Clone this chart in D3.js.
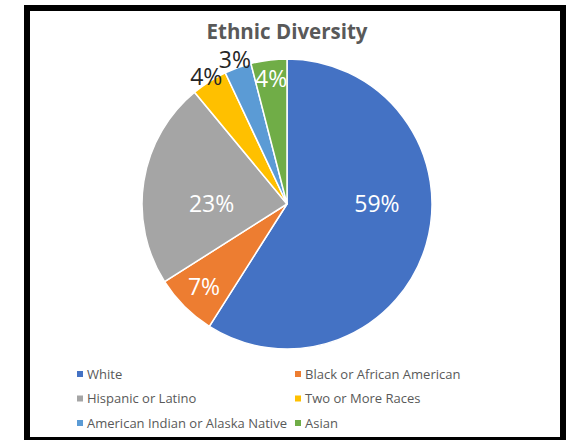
<!DOCTYPE html>
<html>
<head>
<meta charset="utf-8">
<script src="https://cdn.jsdelivr.net/npm/d3@7"></script>
<style>
  body { margin: 0; background: #fff; }
  svg { display: block; }
</style>
</head>
<body>
<div id="chart"></div>
<script>
var categories = ["White", "Black or African American", "Hispanic or Latino",
                  "Two or More Races", "American Indian or Alaska Native", "Asian"];
var values = [59, 7, 23, 4, 3, 4];
var colors = ["#4472C4", "#ED7D31", "#A5A5A5", "#FFC000", "#5B9BD5", "#70AD47"];
var title = "Ethnic Diversity";

function draw_pie() {
  "use strict";
  var width = 569,
      height = 440;

  var cx = 287, cy = 204, radius = 145;

  var svg = d3.select("#chart")
      .append("svg")
      .attr("width", width)
      .attr("height", height);

  // frame
  svg.append("rect")
      .attr("x", 27)
      .attr("y", 8)
      .attr("width", 536)
      .attr("height", 432)
      .style("fill", "#fff")
      .style("stroke", "#000")
      .style("stroke-width", 6);

  svg.append("text")
      .attr("x", cx)
      .attr("y", 39)
      .attr("text-anchor", "middle")
      .style("font-family", "Open Sans")
      .style("font-weight", "bold")
      .style("font-size", "20.5px")
      .style("fill", "#595959")
      .text(title);

  var data = categories.map(function(c, i) { return {name: c, value: values[i], color: colors[i]}; });

  var pie = d3.pie().sort(null).value(function(d) { return d.value; });
  var arcs = pie(data);

  var arc = d3.arc().innerRadius(0).outerRadius(radius);

  var g = svg.append("g").attr("transform", "translate(" + cx + "," + cy + ")");

  g.selectAll("path")
      .data(arcs)
      .enter()
      .append("path")
      .attr("d", arc)
      .style("fill", function(d) { return d.data.color; })
      .style("stroke", "#fff")
      .style("stroke-width", 1.5);

  // label placement, roughly like excel's best fit
  var labelR = [0.62, 0.81, 0.52, 1.04, 1.06, 0.87];
  var outside = [false, false, false, true, true, false];

  g.selectAll("text.lbl")
      .data(arcs)
      .enter()
      .append("text")
      .attr("class", "lbl")
      .each(function(d, i) {
        var a = (d.startAngle + d.endAngle) / 2;
        // big slices crossing the horizontal put their label on it
        if (d.startAngle < Math.PI / 2 && d.endAngle > Math.PI / 2) a = Math.PI / 2;
        if (d.startAngle < 3 * Math.PI / 2 && d.endAngle > 3 * Math.PI / 2) a = 3 * Math.PI / 2;
        var r = labelR[i] * radius;
        d3.select(this)
          .attr("x", r * Math.sin(a))
          .attr("y", -r * Math.cos(a));
      })
      .attr("text-anchor", "middle")
      .attr("dy", "0.36em")
      .style("font-family", "Open Sans")
      .style("font-size", "23px")
      .style("fill", function(d, i) { return outside[i] ? "#262626" : "#fff"; })
      .text(function(d) { return d.data.value + "%"; });

  // legend
  var col = d3.scalePoint().domain([0, 1]).range([77, 295]);
  var row = d3.scalePoint().domain([0, 1, 2]).range([374, 423]);

  var leg = svg.selectAll("g.leg")
      .data(data)
      .enter()
      .append("g")
      .attr("class", "leg")
      .attr("transform", function(d, i) {
        return "translate(" + col(i % 2) + "," + row(Math.floor(i / 2)) + ")";
      });

  leg.append("rect")
      .attr("x", 0)
      .attr("y", -3)
      .attr("width", 6)
      .attr("height", 6)
      .style("fill", function(d) { return d.color; });

  leg.append("text")
      .attr("x", 10)
      .attr("y", 0)
      .attr("dy", "0.35em")
      .style("font-family", "Open Sans")
      .style("font-size", "13px")
      .style("fill", "#595959")
      .text(function(d) { return d.name; });
}

draw_pie();
</script>
</body>
</html>
